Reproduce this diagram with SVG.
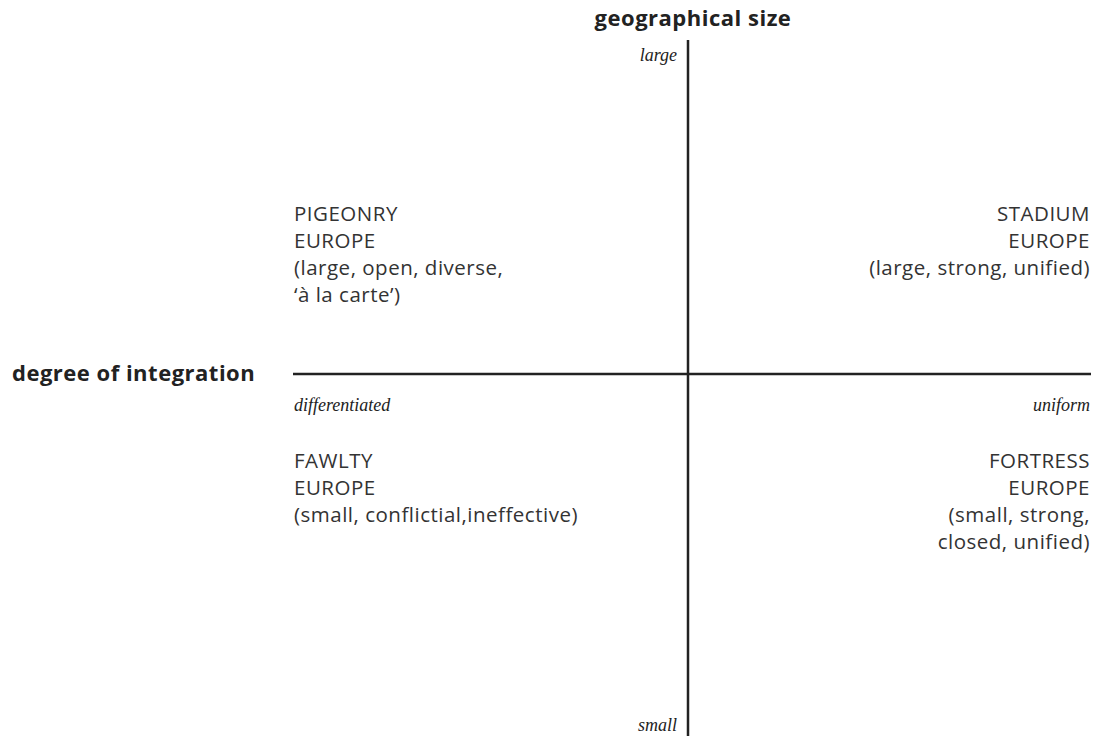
<svg xmlns="http://www.w3.org/2000/svg" width="1093" height="736" viewBox="0 0 1093 736">
<style>
.t{font-family:"Open Sans","Liberation Sans",sans-serif;font-size:20.5px;letter-spacing:0.5px;fill:#333}
.b{font-family:"Open Sans","Liberation Sans",sans-serif;font-size:22px;letter-spacing:0.5px;font-weight:bold;fill:#222}
.i{font-family:"Liberation Serif","DejaVu Serif",serif;font-size:18px;font-style:italic;fill:#222}
.r{text-anchor:end}
.ax{stroke:#222;stroke-width:2.5;fill:none}
</style>
<rect width="1093" height="736" fill="#fff"/>
<g id="connectors">
<line class="ax" x1="688" y1="40" x2="688" y2="736"/>
<line class="ax" x1="293" y1="374" x2="1091" y2="374"/>
</g>
<g id="axis-y"><text class="b" x="693" y="26" text-anchor="middle">geographical size</text>
<text class="i r" x="677" y="61">large</text>
<text class="i r" x="677" y="731">small</text></g>
<g id="axis-x"><text class="b" x="12" y="381">degree of integration</text>
<text class="i" x="294" y="411">differentiated</text>
<text class="i r" x="1090" y="411">uniform</text></g>
<g id="pigeonry"><text class="t" x="294" y="221">PIGEONRY</text><text class="t" x="294" y="248">EUROPE</text><text class="t" x="294" y="275">(large, open, diverse,</text><text class="t" x="294" y="302">‘à la carte’)</text></g>
<g id="stadium"><text class="t r" x="1090" y="221">STADIUM</text><text class="t r" x="1090" y="248">EUROPE</text><text class="t r" x="1090" y="275">(large, strong, unified)</text></g>
<g id="fawlty"><text class="t" x="294" y="468">FAWLTY</text><text class="t" x="294" y="495">EUROPE</text><text class="t" x="294" y="522">(small, conflictial,ineffective)</text></g>
<g id="fortress"><text class="t r" x="1090" y="468">FORTRESS</text><text class="t r" x="1090" y="495">EUROPE</text><text class="t r" x="1090" y="522">(small, strong,</text><text class="t r" x="1090" y="549">closed, unified)</text></g>
</svg>
